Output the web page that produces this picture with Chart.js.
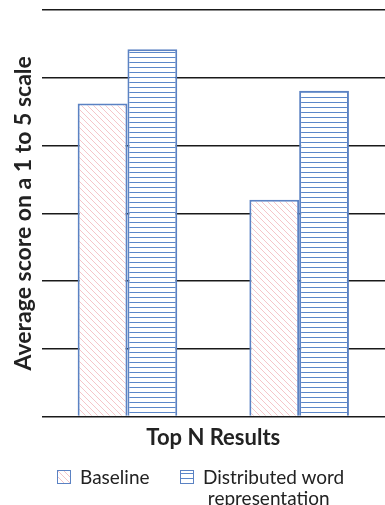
<!DOCTYPE html>
<html>
<head>
<meta charset="utf-8">
<script src="https://cdn.jsdelivr.net/npm/chart.js@4"></script>
<style>
  html, body { margin: 0; padding: 0; background: #fff; }
  #wrap { position: relative; width: 385px; height: 505px; overflow: hidden; }
  #legend { position: absolute; left: 0; top: 462px; width: 385px; font-family: Lato, sans-serif; font-size: 19px; color: #222; }
  .item { position: absolute; display: flex; align-items: flex-start; line-height: 21px; }
  .box { width: 12px; height: 12px; border: 1.5px solid #5b82c3; margin-top: 4px; margin-right: 9px; flex: none; }
</style>
</head>
<body>
<div id="wrap">
  <canvas id="chart" width="385" height="505"></canvas>
  <div id="legend">
    <div class="item" style="left:57px;top:4px"><div class="box" id="box1"></div><span>Baseline</span></div>
    <div class="item" style="left:180px;top:4px"><div class="box" id="box2"></div><span>Distributed word<br>&nbsp;representation</span></div>
  </div>
</div>
<script>
  // Data (scale 0..6, one gridline per unit)
  var categories = ['Top 1', 'Top 2'];
  var baseline = [4.62, 3.20];
  var distributed = [5.42, 4.81];
  var seriesNames = ['Baseline', 'Distributed word representation'];

  // Hatch pattern: light pink diagonal lines
  function diagPattern() {
    var c = document.createElement('canvas');
    c.width = 6; c.height = 6;
    var x = c.getContext('2d');
    x.fillStyle = '#fff';
    x.fillRect(0, 0, 6, 6);
    x.strokeStyle = '#f5c6c9';
    x.lineWidth = 1;
    x.beginPath();
    x.moveTo(-1, -1); x.lineTo(7, 7);
    x.moveTo(-1, 5); x.lineTo(1, 7);
    x.moveTo(5, -1); x.lineTo(7, 1);
    x.stroke();
    return c;
  }

  // Horizontal blue lines
  function lineCanvas() {
    var c = document.createElement('canvas');
    c.width = 4; c.height = 5;
    var x = c.getContext('2d');
    x.fillStyle = '#fff';
    x.fillRect(0, 0, 4, 5);
    x.fillStyle = '#5b87c9';
    x.fillRect(0, 2, 4, 1);
    return c;
  }

  var ctx = document.getElementById('chart').getContext('2d');
  var diag = diagPattern();
  var lines = lineCanvas();

  document.getElementById('box1').style.background = 'url(' + diag.toDataURL() + ')';
  document.getElementById('box2').style.background = 'url(' + lines.toDataURL() + ')';

  new Chart(ctx, {
    type: 'bar',
    data: {
      labels: categories,
      datasets: [{
        label: seriesNames[0],
        data: baseline,
        backgroundColor: ctx.createPattern(diag, 'repeat'),
        borderColor: '#5b82c3',
        borderWidth: 2
      }, {
        label: seriesNames[1],
        data: distributed,
        backgroundColor: ctx.createPattern(lines, 'repeat'),
        borderColor: '#5b82c3',
        borderWidth: 2
      }]
    },
    options: {
      responsive: false,
      animation: false,
      layout: { padding: { left: 10, right: 0, top: 10, bottom: 54 } },
      datasets: { bar: { categoryPercentage: 0.58, barPercentage: 1 } },
      plugins: { legend: { display: false }, tooltip: { enabled: false } },
      scales: {
        x: {
          grid: { display: false },
          border: { display: false },
          ticks: { display: false },
          title: {
            display: true, text: 'Top N Results', color: '#222',
            font: { family: 'Lato', size: 22, weight: 'bold' },
            padding: { top: 0, bottom: 0 }
          }
        },
        y: {
          min: 0, max: 6,
          grid: { color: '#1a1a1a', lineWidth: 1.6, drawTicks: false },
          border: { display: false },
          ticks: { display: false, stepSize: 1 },
          title: {
            display: true, text: 'Average score on a 1 to 5 scale', color: '#222',
            font: { family: 'Lato', size: 23, weight: 'bold' },
            padding: { top: 0, bottom: 4 }
          }
        }
      }
    }
  });
</script>
</body>
</html>
